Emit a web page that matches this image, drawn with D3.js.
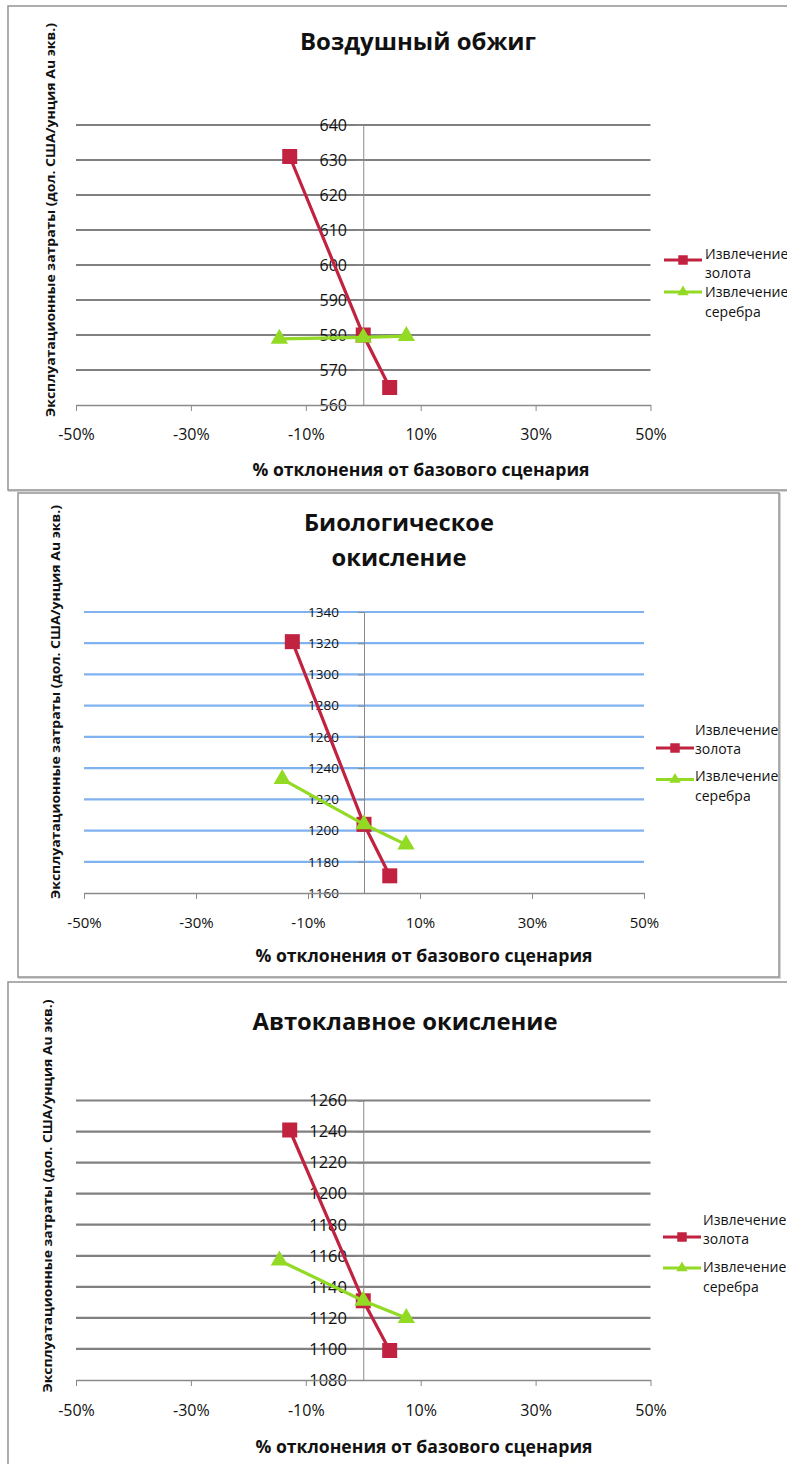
<!DOCTYPE html>
<html>
<head>
<meta charset="utf-8">
<script src="https://cdnjs.cloudflare.com/ajax/libs/d3/7.8.5/d3.min.js"></script>
<style>
  html, body { margin: 0; padding: 0; background: #fff; }
  svg { display: block; }
  text { font-family: "Open Sans", "Noto Sans", sans-serif; fill: #111; }
</style>
</head>
<body>
<svg id="chart" width="787" height="1464"></svg>
<script>
// ---- data ----
const xTickValues = [-50, -30, -10, 10, 30, 50];
const xTickLabels = ["-50%", "-30%", "-10%", "10%", "30%", "50%"];
const seriesNames = [["Извлечение", "золота"], ["Извлечение", "серебра"]];
const yAxisTitle = "Эксплуатационные затраты (дол. США/унция Au экв.)";
const xAxisTitle = "% отклонения от базового сценария";

// % deviation from the base case for each series
const goldDeviation = [-12.8, 0, 4.6];
const silverDeviation = [-14.6, 0, 7.5];

// Air roasting
const roastTitle = ["Воздушный обжиг"];
const roastTicks = [560, 570, 580, 590, 600, 610, 620, 630, 640];
const roastGold = [631, 580, 565];
const roastSilver = [578.9, 579.3, 579.7];

// Bio-oxidation
const bioTitle = ["Биологическое", "окисление"];
const bioTicks = [1160, 1180, 1200, 1220, 1240, 1260, 1280, 1300, 1320, 1340];
const bioGold = [1321, 1204, 1171];
const bioSilver = [1233, 1204, 1191];

// Pressure oxidation
const autoTitle = ["Автоклавное окисление"];
const autoTicks = [1080, 1100, 1120, 1140, 1160, 1180, 1200, 1220, 1240, 1260];
const autoGold = [1241, 1131, 1099];
const autoSilver = [1157, 1131, 1120];

// ---- layout of the three panels ----
const goldColor = "#c0223f";
const silverColor = "#93da25";

const panels = [
  {
    frame: { x: 8, y: 6, w: 800, h: 484 },
    title: roastTitle, titleY: [50], titleX: 418, titleW: [236], titleSize: 24,
    ticks: roastTicks, gold: roastGold, silver: roastSilver,
    left: 76, right: 650.5, top: 125, bottom: 405,
    grid: "#808080", tickSize: 16, tickRight: 347, xTickSize: 16,
    xLabelY: 435, xTitleY: 470, xTitleX: 421,
    yTitleX: 51, yTitleY: 220, yTitleLen: 394,
    legend: { lineX: [664, 702], goldY: 260, silverY: 292, textX: 705, goldText: 254, silverText: 292.5 }
  },
  {
    frame: { x: 18, y: 493, w: 761, h: 484 },
    title: bioTitle, titleY: [531, 566], titleX: 399, titleW: [190, 135], titleSize: 24,
    ticks: bioTicks, gold: bioGold, silver: bioSilver,
    left: 84, right: 644, top: 612, bottom: 893,
    grid: "#80b2ef", tickSize: 13.5, tickRight: 339, xTickSize: 15,
    xLabelY: 923, xTitleY: 956, xTitleX: 424,
    yTitleX: 56, yTitleY: 702, yTitleLen: 394,
    legend: { lineX: [656, 694], goldY: 748, silverY: 779.5, textX: 695, goldText: 730, silverText: 776.5 }
  },
  {
    frame: { x: 8, y: 982, w: 800, h: 500 },
    title: autoTitle, titleY: [1030], titleX: 405, titleW: [305], titleSize: 24,
    ticks: autoTicks, gold: autoGold, silver: autoSilver,
    left: 76, right: 650.5, top: 1100.5, bottom: 1380,
    grid: "#808080", tickSize: 16.5, tickRight: 347, xTickSize: 16,
    xLabelY: 1411, xTitleY: 1447, xTitleX: 424,
    yTitleX: 48, yTitleY: 1196, yTitleLen: 393,
    legend: { lineX: [663, 701], goldY: 1237, silverY: 1268, textX: 703, goldText: 1220, silverText: 1267.5 }
  }
];

const svg = d3.select("#chart");

panels.forEach(p => {
  const g = svg.append("g");

  // frame
  g.append("rect")
    .attr("x", p.frame.x + 1).attr("y", p.frame.y + 1)
    .attr("width", p.frame.w).attr("height", p.frame.h)
    .attr("fill", "none").attr("stroke", "#d4d4d4").attr("stroke-width", 2);
  g.append("rect")
    .attr("x", p.frame.x).attr("y", p.frame.y)
    .attr("width", p.frame.w).attr("height", p.frame.h)
    .attr("fill", "#fff").attr("stroke", "#9a9a9a").attr("stroke-width", 1.6);

  const x = d3.scaleLinear().domain([-50, 50]).range([p.left, p.right]);
  const y = d3.scaleLinear().domain(d3.extent(p.ticks)).range([p.bottom, p.top]);
  const x0 = x(0);

  // horizontal gridlines
  g.append("g").selectAll("line")
    .data(p.ticks.slice(1))
    .join("line")
    .attr("x1", p.left).attr("x2", p.right)
    .attr("y1", d => y(d)).attr("y2", d => y(d))
    .attr("stroke", p.grid).attr("stroke-width", 2.2);

  // vertical value axis through 0 %
  const yAxis = d3.axisLeft(y)
    .tickValues(p.ticks)
    .tickSize(6)
    .tickPadding(x0 - p.tickRight - 6)
    .tickFormat(d3.format("d"));
  const ya = g.append("g").attr("transform", `translate(${x0},0)`).call(yAxis);
  ya.attr("font-size", p.tickSize).attr("font-family", "'Open Sans', sans-serif");
  ya.select(".domain").attr("stroke", "#8a8a8a").attr("stroke-width", 1);
  ya.selectAll(".tick line").attr("stroke", "#8a8a8a");
  ya.selectAll("text")
    .style("font-size", p.tickSize + "px").attr("fill", "#111");

  // category axis at the bottom
  const xAxis = d3.axisBottom(x)
    .tickValues(xTickValues)
    .tickSize(6)
    .tickPadding(p.xLabelY - p.bottom - 12)
    .tickSizeOuter(0)
    .tickFormat((d, i) => xTickLabels[i]);
  const xa = g.append("g").attr("transform", `translate(0,${p.bottom})`).call(xAxis);
  xa.attr("font-size", p.xTickSize).attr("font-family", "'Open Sans', sans-serif");
  xa.select(".domain").attr("stroke", "#8a8a8a").attr("stroke-width", 1.4);
  xa.selectAll(".tick line").attr("stroke", "#8a8a8a");
  xa.selectAll("text")
    .style("font-size", p.xTickSize + "px").attr("fill", "#111")
    .attr("dy", "0.32em").attr("y", p.xLabelY - p.bottom);

  // series
  const line = d3.line().x(d => x(d[0])).y(d => y(d[1]));
  const goldPts = goldDeviation.map((d, i) => [d, p.gold[i]]);
  const silverPts = silverDeviation.map((d, i) => [d, p.silver[i]]);

  g.append("path").datum(goldPts).attr("d", line)
    .attr("fill", "none").attr("stroke", goldColor).attr("stroke-width", 3.2);
  g.append("g").selectAll("path").data(goldPts).join("path")
    .attr("d", d3.symbol(d3.symbolSquare, 225))
    .attr("transform", d => `translate(${x(d[0])},${y(d[1])})`)
    .attr("fill", goldColor);

  g.append("path").datum(silverPts).attr("d", line)
    .attr("fill", "none").attr("stroke", silverColor).attr("stroke-width", 3.2);
  g.append("g").selectAll("path").data(silverPts).join("path")
    .attr("d", d3.symbol(d3.symbolTriangle, 130))
    .attr("transform", d => `translate(${x(d[0])},${y(d[1])})`)
    .attr("fill", silverColor);

  // titles
  p.title.forEach((t, i) => {
    g.append("text")
      .attr("x", p.titleX).attr("y", p.titleY[i])
      .attr("text-anchor", "middle")
      .attr("font-weight", 700).attr("font-size", p.titleSize)
      .attr("textLength", p.titleW[i]).attr("lengthAdjust", "spacingAndGlyphs")
      .text(t);
  });

  g.append("text")
    .attr("x", p.xTitleX).attr("y", p.xTitleY).attr("dy", "0.35em")
    .attr("text-anchor", "middle")
    .attr("font-weight", 700).attr("font-size", 17)
    .attr("textLength", 337).attr("lengthAdjust", "spacingAndGlyphs")
    .text(xAxisTitle);

  g.append("text")
    .attr("transform", `translate(${p.yTitleX},${p.yTitleY}) rotate(-90)`)
    .attr("dy", "0.35em")
    .attr("text-anchor", "middle")
    .attr("font-family", "'Liberation Sans', Arial, sans-serif")
    .attr("font-weight", 700).attr("font-size", 12.5)
    .attr("textLength", p.yTitleLen).attr("lengthAdjust", "spacingAndGlyphs")
    .text(yAxisTitle);

  // legend
  const L = p.legend;
  const legendRows = [
    { color: goldColor, y: L.goldY, ty: L.goldText, sym: d3.symbolSquare, size: 90, name: seriesNames[0] },
    { color: silverColor, y: L.silverY, ty: L.silverText, sym: d3.symbolTriangle, size: 55, name: seriesNames[1] }
  ];
  legendRows.forEach(r => {
    g.append("line")
      .attr("x1", L.lineX[0]).attr("x2", L.lineX[1])
      .attr("y1", r.y).attr("y2", r.y)
      .attr("stroke", r.color).attr("stroke-width", 3);
    g.append("path")
      .attr("d", d3.symbol(r.sym, r.size))
      .attr("transform", `translate(${(L.lineX[0] + L.lineX[1]) / 2},${r.y})`)
      .attr("fill", r.color);
    r.name.forEach((t, i) => {
      g.append("text")
        .attr("x", L.textX).attr("y", r.ty + i * 19.5).attr("dy", "0.35em")
        .attr("font-size", 14).attr("fill", "#1a1a1a")
        .text(t);
    });
  });
});
</script>
</body>
</html>
